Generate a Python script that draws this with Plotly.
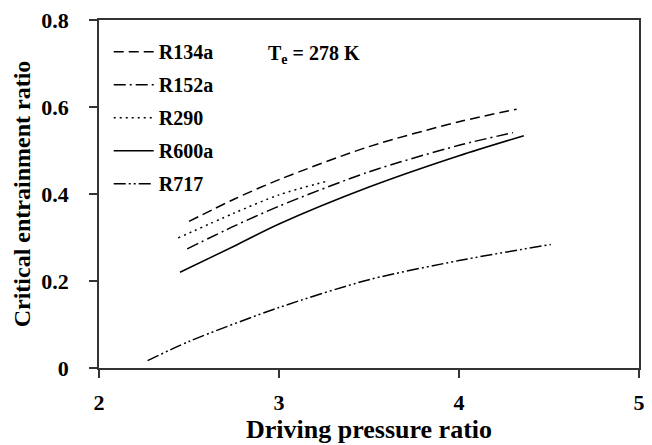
import plotly.graph_objects as go

# Critical entrainment ratio vs driving pressure ratio, evaporator at 278 K
r134a_x = [2.50, 2.75, 3.00, 3.50, 4.00, 4.32]
r134a_y = [0.337, 0.388, 0.433, 0.509, 0.566, 0.595]

r152a_x = [2.49, 2.75, 3.00, 3.50, 4.00, 4.30]
r152a_y = [0.274, 0.326, 0.372, 0.451, 0.512, 0.541]

r290_x = [2.44, 2.75, 3.00, 3.28]
r290_y = [0.299, 0.356, 0.398, 0.431]

r600a_x = [2.45, 2.75, 3.00, 3.50, 4.00, 4.36]
r600a_y = [0.220, 0.280, 0.331, 0.416, 0.488, 0.534]

r717_x = [2.27, 2.50, 3.00, 3.50, 4.00, 4.51]
r717_y = [0.017, 0.061, 0.139, 0.203, 0.247, 0.284]

series = [
    ("R134a", r134a_x, r134a_y, "10px,5px"),
    ("R152a", r152a_x, r152a_y, "12px,4px,2px,4px"),
    ("R290", r290_x, r290_y, "2px,4px"),
    ("R600a", r600a_x, r600a_y, "solid"),
    ("R717", r717_x, r717_y, "12px,3px,2px,3px,2px,3px"),
]

x_ticks = [2, 3, 4, 5]
y_ticks = [0, 0.2, 0.4, 0.6, 0.8]
y_tick_text = ["0", "0.2", "0.4", "0.6", "0.8"]

FONT = "Liberation Serif, Times New Roman, serif"

fig = go.Figure()
for name, xs, ys, dash in series:
    fig.add_trace(go.Scatter(
        x=xs, y=ys, mode="lines", name=name, legendgroup=name,
        line=dict(color="black", width=1.5, dash=dash, shape="spline", smoothing=0.8),
    ))

axis_common = dict(
    showgrid=False, zeroline=False, showline=True, linecolor="#333333", linewidth=1.5,
    ticks="outside", ticklen=8, tickwidth=1.5, tickcolor="#333333",
    mirror=True,
    tickfont=dict(family=FONT, size=22, color="black", weight="bold"),
)

fig.update_layout(
    width=652, height=445,
    margin=dict(l=99, r=7, t=20, b=77),
    paper_bgcolor="white", plot_bgcolor="white",
    font=dict(family=FONT, color="black"),
    xaxis=dict(
        range=[2, 5], tickvals=x_ticks, ticklabelstandoff=6,
        title=dict(text="Driving pressure ratio", standoff=4,
                   font=dict(family=FONT, size=26, color="black", weight="bold")),
        **axis_common,
    ),
    yaxis=dict(
        range=[0, 0.8], tickvals=y_ticks, ticktext=y_tick_text, ticklabelstandoff=16,
        title=dict(text="Critical entrainment ratio", standoff=4,
                   font=dict(family=FONT, size=24, color="black", weight="bold")),
        **axis_common,
    ),
    legend=dict(
        x=0.018, y=0.965, xanchor="left", yanchor="top",
        traceorder="grouped", tracegroupgap=4,
        font=dict(family=FONT, size=20, color="black", weight="bold"),
        bgcolor="rgba(0,0,0,0)", itemwidth=40,
    ),
    showlegend=True,
)

fig.add_annotation(
    x=0.31, y=0.9, xref="paper", yref="paper", xanchor="left", yanchor="middle",
    text="T<sub>e</sub> = 278 K", showarrow=False,
    font=dict(family=FONT, size=20, color="black", weight="bold"),
)

fig.write_html("out.html")
